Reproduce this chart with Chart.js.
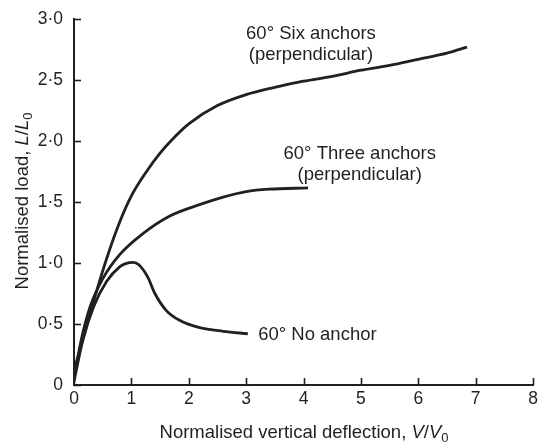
<!DOCTYPE html>
<html><head><meta charset="utf-8">
<script src="https://cdn.jsdelivr.net/npm/chart.js@4/dist/chart.umd.min.js"></script>
<style>html,body{margin:0;padding:0;background:#fff}#wrap{width:539px;height:443px}</style>
</head><body><div id="wrap"><canvas id="c" width="539" height="443"></canvas></div>
<script>
// ---- data ----
const xTicks = [0,1,2,3,4,5,6,7,8];
const yTicks = [0,0.5,1.0,1.5,2.0,2.5,3.0];
const yTickLabels = ['0','0·5','1·0','1·5','2·0','2·5','3·0'];

const sixX = [0, 0.2, 0.4, 0.6, 0.8, 1.0, 1.25, 1.5, 1.75, 2.0, 2.5, 3.0, 3.5, 4.0, 4.5, 5.0, 5.5, 6.0, 6.5, 6.85];
const sixY = [0.12, 0.45, 0.78, 1.08, 1.34, 1.55, 1.74, 1.9, 2.03, 2.14, 2.29, 2.38, 2.44, 2.49, 2.53, 2.58, 2.62, 2.67, 2.72, 2.77];

const threeX = [0, 0.14, 0.28, 0.5, 0.8, 1.2, 1.67, 2.2, 2.6, 3.0, 3.4, 4.08];
const threeY = [0.06, 0.4, 0.64, 0.87, 1.07, 1.24, 1.385, 1.48, 1.54, 1.585, 1.605, 1.615];

const noX = [0, 0.15, 0.34, 0.57, 0.8, 0.9, 1.03, 1.13, 1.29, 1.41, 1.61, 1.84, 2.19, 2.6, 3.03];
const noY = [0.03, 0.36, 0.64, 0.85, 0.97, 0.995, 1.005, 0.985, 0.88, 0.75, 0.61, 0.53, 0.47, 0.44, 0.42];

const seriesNames = ['60° Six anchors (perpendicular)', '60° Three anchors (perpendicular)', '60° No anchor'];

// annotation text (anchored in data units)
const notes = [
  {lines:['60° Six anchors','(perpendicular)'], x:4.13, y:2.836, align:'center'},
  {lines:['60° Three anchors','(perpendicular)'], x:4.98, y:1.852, align:'center'},
  {lines:['60° No anchor'], x:3.21, y:0.37, align:'left'}
];

const INK = '#231f20';
const FAM = '"Liberation Sans", Arial, Helvetica, sans-serif';

function pts(xs, ys){ return xs.map((x,i)=>({x:x, y:ys[i]})); }

const ds = (name, xs, ys) => ({
  label: name, data: pts(xs, ys), borderColor: INK, borderWidth: 2.8,
  pointRadius: 0, fill: false, cubicInterpolationMode: 'monotone', showLine: true
});

const decorPlugin = {
  id: 'decor',
  afterDraw(chart){
    const ctx = chart.ctx, xs = chart.scales.x, ys = chart.scales.y;
    ctx.save();
    ctx.strokeStyle = INK; ctx.lineWidth = 1.6;
    // inward tick marks
    xTicks.forEach(v => {
      const p = Math.round(xs.getPixelForValue(v)) + 0.5;
      ctx.beginPath(); ctx.moveTo(p, ys.bottom); ctx.lineTo(p, ys.bottom - 7); ctx.stroke();
    });
    yTicks.forEach(v => {
      const p = Math.round(ys.getPixelForValue(v)) + 0.5;
      ctx.beginPath(); ctx.moveTo(xs.left, p); ctx.lineTo(xs.left + 7, p); ctx.stroke();
    });
    // annotations
    ctx.fillStyle = INK;
    ctx.font = '18.5px ' + FAM;
    ctx.textBaseline = 'alphabetic';
    notes.forEach(n => {
      const px = xs.getPixelForValue(n.x), py = ys.getPixelForValue(n.y);
      ctx.textAlign = n.align;
      n.lines.forEach((t, i) => ctx.fillText(t, px, py + i * 21));
    });
    // axis titles with italic and subscript parts
    function drawTitle(parts, cx, cy, rot){
      ctx.save();
      ctx.translate(cx, cy); ctx.rotate(rot);
      let w = 0;
      parts.forEach(p => { ctx.font = p.f; p.w = ctx.measureText(p.t).width; w += p.w; });
      let x = -w/2;
      ctx.textAlign = 'left';
      parts.forEach(p => { ctx.font = p.f; ctx.fillText(p.t, x, p.dy || 0); x += p.w; });
      ctx.restore();
    }
    const N = '18.5px ' + FAM, I = 'italic 18.5px ' + FAM, S = '13px ' + FAM;
    drawTitle([{t:'Normalised vertical deflection, ', f:N},{t:'V', f:I},{t:'/', f:N},{t:'V', f:I},{t:'0', f:S, dy:4}], 304, 438, 0);
    drawTitle([{t:'Normalised load, ', f:N},{t:'L', f:I},{t:'/', f:N},{t:'L', f:I},{t:'0', f:S, dy:4}], 28, 201, -Math.PI/2);
    ctx.restore();
  }
};

new Chart(document.getElementById('c'), {
  type: 'line',
  data: { datasets: [ ds(seriesNames[0], sixX, sixY), ds(seriesNames[1], threeX, threeY), ds(seriesNames[2], noX, noY) ] },
  options: {
    responsive: false, animation: false, devicePixelRatio: 1,
    layout: { padding: { left: 0, top: 19, right: 6, bottom: 0 } },
    plugins: { legend: { display: false }, tooltip: { enabled: false } },
    scales: {
      x: {
        type: 'linear', min: 0, max: 8,
        afterBuildTicks: s => { s.ticks = xTicks.map(v => ({value: v})); },
        ticks: { color: INK, font: { size: 17.5, family: FAM }, padding: 4, maxRotation: 0, autoSkip: false },
        grid: { display: false, drawTicks: false },
        border: { display: true, color: INK, width: 2 },
        afterFit: s => { s.height = 58; s.paddingLeft = 0; s.paddingRight = 0; }
      },
      y: {
        type: 'linear', min: 0, max: 3,
        afterBuildTicks: s => { s.ticks = yTicks.map(v => ({value: v})); },
        ticks: { color: INK, font: { size: 17.5, family: FAM }, padding: 11, autoSkip: false,
          callback: (v) => { const i = yTicks.indexOf(v); return i >= 0 ? yTickLabels[i] : ''; } },
        grid: { display: false, drawTicks: false },
        border: { display: true, color: INK, width: 2 },
        afterFit: s => { s.width = 74; s.paddingTop = 0; s.paddingBottom = 0; }
      }
    }
  },
  plugins: [decorPlugin]
});
</script></body></html>
